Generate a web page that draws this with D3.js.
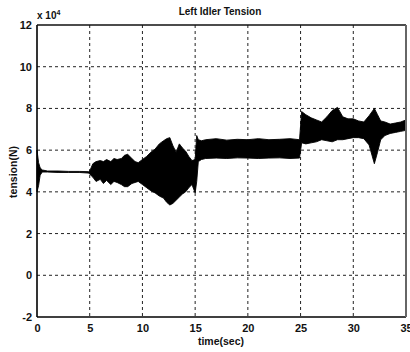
<!DOCTYPE html>
<html>
<head>
<meta charset="utf-8">
<script src="https://cdn.jsdelivr.net/npm/d3@7/dist/d3.min.js"></script>
<style>
  body { margin: 0; background: #fff; }
  svg text { font-family: "Liberation Sans", Arial, sans-serif; font-weight: bold; fill: #111; }
</style>
</head>
<body>
<svg id="chart" width="410" height="352"></svg>
<script>
// envelope of the dense tension signal (units of 1e4 N)
const time = [0, 0.15, 0.3, 0.5, 1, 2, 3, 4, 4.9, 5.0, 5.3, 5.6, 6.0, 6.3, 6.6, 7.0, 7.3, 7.6, 8.0, 8.3, 8.6,
  9.0, 9.3, 9.6, 10.0, 10.4, 10.8, 11.2, 11.6, 12.0, 12.3, 12.6, 12.9, 13.2, 13.5, 13.8, 14.1, 14.4, 14.7,
  15.0, 15.15, 15.3, 15.6, 16, 17, 18, 19, 20, 21, 22, 23, 24, 24.9, 25.1, 25.5, 26, 26.5, 27, 27.5, 28,
  28.5, 29, 29.5, 30, 30.5, 31, 31.5, 32, 32.3, 32.6, 33, 33.5, 34, 34.5, 35];
const upper = [6.0, 5.4, 5.15, 5.05, 5.0, 5.0, 4.98, 4.98, 4.97, 5.0, 5.35, 5.45, 5.5, 5.45, 5.55, 5.45, 5.6, 5.55, 5.6, 5.75, 5.8,
  5.6, 5.45, 5.4, 5.55, 5.7, 5.9, 6.05, 6.3, 6.45, 6.55, 6.6, 6.2, 5.9, 6.3, 6.1, 5.95, 5.7, 5.5,
  5.55, 6.7, 6.5, 6.45, 6.5, 6.55, 6.48, 6.52, 6.5, 6.55, 6.5, 6.52, 6.55, 6.5, 7.85, 7.7, 7.55, 7.45, 7.35, 7.6, 7.9,
  8.05, 7.6, 7.5, 7.5, 7.4, 7.35, 7.65, 8.0, 7.7, 7.4, 7.35, 7.25, 7.3, 7.35, 7.45];
const lower = [4.0, 4.3, 4.8, 4.95, 4.95, 4.93, 4.93, 4.93, 4.9, 4.85, 4.7, 4.5, 4.6, 4.4, 4.55, 4.35, 4.5, 4.45, 4.35, 4.25, 4.25,
  4.4, 4.45, 4.5, 4.35, 4.2, 4.05, 3.95, 3.8, 3.7, 3.5, 3.37, 3.45, 3.6, 3.75, 3.9, 4.0, 4.2, 4.35,
  3.95, 4.5, 5.45, 5.55, 5.6, 5.62, 5.6, 5.63, 5.62, 5.6, 5.62, 5.63, 5.6, 5.62, 6.35, 6.3, 6.35, 6.4, 6.5, 6.45, 6.4,
  6.5, 6.5, 6.55, 6.6, 6.6, 6.55, 6.25, 5.35, 5.9, 6.5, 6.7, 6.8, 6.85, 6.9, 6.95];

const xTicks = [0, 5, 10, 15, 20, 25, 30, 35];
const yTicks = [-2, 0, 2, 4, 6, 8, 10, 12];

const svg = d3.select('#chart');
const plotL = 37, plotR = 406, plotT = 25, plotB = 317;

const x = d3.scaleLinear().domain([0, 35]).range([plotL, plotR]);
const y = d3.scaleLinear().domain([-2, 12]).range([plotB, plotT]);

// grid
const grid = svg.append('g')
  .attr('stroke', '#222')
  .attr('stroke-width', 1)
  .attr('stroke-dasharray', '3,3');
grid.selectAll('.gx')
  .data(xTicks.slice(1, -1))
  .join('line')
  .attr('x1', d => x(d)).attr('x2', d => x(d))
  .attr('y1', plotT).attr('y2', plotB);
grid.selectAll('.gy')
  .data(yTicks.slice(1, -1))
  .join('line')
  .attr('x1', plotL).attr('x2', plotR)
  .attr('y1', d => y(d)).attr('y2', d => y(d));

// signal band
const data = time.map((t, i) => ({ t: t, hi: upper[i], lo: lower[i] }));
const area = d3.area()
  .x(d => x(d.t))
  .y0(d => y(d.lo))
  .y1(d => y(d.hi));
svg.append('path')
  .datum(data)
  .attr('d', area)
  .attr('fill', '#000')
  .attr('stroke', '#000')
  .attr('stroke-width', 0.9)
  .attr('stroke-linejoin', 'round');

// axes
const xAxis = d3.axisBottom(x).tickValues(xTicks).tickSize(0).tickPadding(7).tickFormat(d => String(d));
const yAxis = d3.axisLeft(y).tickValues(yTicks).tickSize(0).tickPadding(5).tickFormat(d => String(d));

const gx = svg.append('g').attr('transform', `translate(0,${plotB})`).call(xAxis);
const gy = svg.append('g').attr('transform', `translate(${plotL},0)`).call(yAxis);
[gx, gy].forEach(g => {
  g.select('.domain').remove();
  g.selectAll('text').attr('font-size', 11).attr('font-family', '"Liberation Sans", Arial, sans-serif').attr('font-weight', 'bold');
});

// box
svg.append('line').attr('x1', plotL).attr('x2', plotL).attr('y1', plotT).attr('y2', plotB)
  .attr('stroke', '#000').attr('stroke-width', 1.6);
svg.append('line').attr('x1', plotL).attr('x2', plotR).attr('y1', plotB).attr('y2', plotB)
  .attr('stroke', '#000').attr('stroke-width', 1.6);
svg.append('line').attr('x1', plotL).attr('x2', plotR).attr('y1', plotT).attr('y2', plotT)
  .attr('stroke', '#111').attr('stroke-width', 1.3);
svg.append('line').attr('x1', plotR).attr('x2', plotR).attr('y1', plotT).attr('y2', plotB)
  .attr('stroke', '#666').attr('stroke-width', 2);

// exponent label
const expo = svg.append('text').attr('x', 37).attr('y', 19).attr('font-size', 10);
expo.append('tspan').text('x 10');
expo.append('tspan').attr('dy', -4).attr('font-size', 7).text('4');

// title and axis labels
svg.append('text')
  .attr('x', 220).attr('y', 15)
  .attr('text-anchor', 'middle')
  .attr('font-size', 10)
  .text('Left Idler Tension');

svg.append('text')
  .attr('x', 221).attr('y', 345)
  .attr('text-anchor', 'middle')
  .attr('font-size', 10.5)
  .text('time(sec)');

svg.append('text')
  .attr('transform', 'translate(17,172) rotate(-90)')
  .attr('text-anchor', 'middle')
  .attr('font-size', 10.5)
  .text('tension(N)');
</script>
</body>
</html>
